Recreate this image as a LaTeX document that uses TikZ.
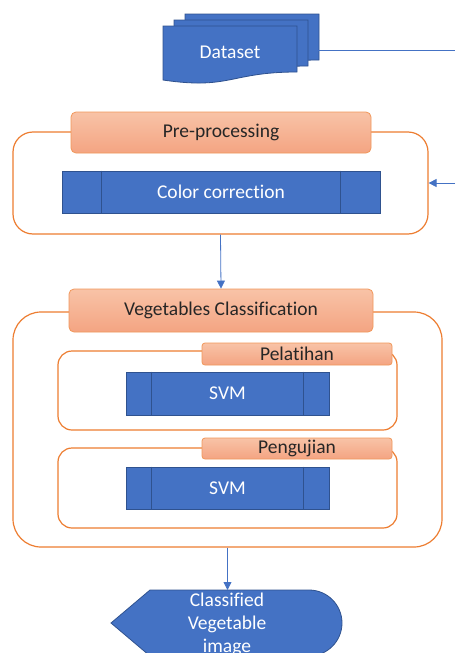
\documentclass[tikz,border=0pt]{standalone}
\usepackage{fontspec}
\setmainfont{Carlito}[Ligatures=NoCommon]
\usepackage{tikz}
\usetikzlibrary{arrows.meta}

\definecolor{azul}{HTML}{4472C4}
\definecolor{azulborde}{HTML}{2F528F}
\definecolor{naranja}{HTML}{ED7D31}
\definecolor{salmonA}{HTML}{F8C3A7}
\definecolor{salmonB}{HTML}{F4A482}

\begin{document}
\begin{tikzpicture}[x=1pt, y=-1pt,
    caja/.style={draw=naranja, line width=1.2pt, fill=white, rounded corners=#1},
    cabecera/.style={draw=naranja!80, line width=0.8pt, rounded corners=5pt,
        top color=salmonA, bottom color=salmonB, text=black!85,
        font=\fontsize{19.5}{23}\selectfont},
    proceso/.style={draw=azulborde, line width=1pt, fill=azul, text=white,
        font=\fontsize{19.5}{23}\selectfont},
    flecha/.style={draw=azul, line width=0.8pt, -{Triangle[length=8pt,width=8pt]}}]

    \clip (0,0) rectangle (455,653);
    \useasboundingbox (0,0) rectangle (455,653);

    % Pila de documentos 'Dataset'
    \foreach \dx/\dy in {22/-12, 11/-6, 0/0} {
        \draw[draw=azulborde, line width=0.8pt, fill=azul]
            ({163+\dx},{26+\dy}) -- ({297+\dx},{26+\dy}) -- ({297+\dx},{72+\dy})
            .. controls ({230+\dx},{72+\dy}) and ({230+\dx},{90+\dy}) .. ({163+\dx},{80+\dy}) -- cycle;
    }
    \node[text=white, font=\fontsize{19.5}{23}\selectfont] (dataset) at (230,52) {Dataset};
    \coordinate (datasetfin) at (318,50);
    \coordinate (salidader) at (455,50);
    \coordinate (entrada) at (455,183);

    % Bloque 'Pre-processing'
    \node[caja=20pt, minimum width=415, minimum height=102] (preproc) at (220.5,183) {};
    \node[cabecera, minimum width=300, minimum height=41] (preproctit) at (221,132.5) {Pre-processing};
    \node[proceso, minimum width=318, minimum height=42] (color) at (221,192) {Color correction};
    \draw[azulborde, line width=0.8pt] ([xshift=40]color.north west) -- ([xshift=40]color.south west);
    \draw[azulborde, line width=0.8pt] ([xshift=-40]color.north east) -- ([xshift=-40]color.south east);

    % Bloque 'Vegetables Classification'
    \node[caja=28pt, minimum width=429, minimum height=235] (clasif) at (227.5,429.5) {};
    \node[cabecera, minimum width=304, minimum height=43] (clasiftit) at (221,310.5) {Vegetables Classification};

    % Sub-bloque 'Pelatihan'
    \node[caja=14pt, minimum width=339, minimum height=79] (pelatihan) at (227.5,390.5) {};
    \node[cabecera, rounded corners=3pt, minimum width=190, minimum height=22, inner sep=0pt] (pelatihantit) at (297,354) {Pelatihan};
    \node[proceso, minimum width=203, minimum height=43] (svmA) at (227.5,393.5) {SVM};
    \draw[azulborde, line width=0.8pt] ([xshift=26]svmA.north west) -- ([xshift=26]svmA.south west);
    \draw[azulborde, line width=0.8pt] ([xshift=-26]svmA.north east) -- ([xshift=-26]svmA.south east);

    % Sub-bloque 'Pengujian'
    \node[caja=14pt, minimum width=339, minimum height=80] (pengujian) at (227.5,488) {};
    \node[cabecera, rounded corners=3pt, minimum width=190, minimum height=21, inner sep=0pt] (pengujiantit) at (297,448.5) {Pengujian};
    \node[proceso, minimum width=203, minimum height=42] (svmB) at (227.5,488) {SVM};
    \draw[azulborde, line width=0.8pt] ([xshift=26]svmB.north west) -- ([xshift=26]svmB.south west);
    \draw[azulborde, line width=0.8pt] ([xshift=-26]svmB.north east) -- ([xshift=-26]svmB.south east);

    % Salida 'Classified Vegetable image'
    \draw[draw=azulborde, line width=0.8pt, fill=azul]
        (111,623) -- (150,590) -- (309,590) arc[start angle=-90, end angle=90, x radius=33, y radius=33]
        -- (150,656) -- cycle;
    \coordinate (salidatop) at (227.5,590);
    \node[text=white, align=center, font=\fontsize{19.5}{23}\selectfont] (salida) at (227,624) {Classified\\Vegetable\\image};

    % Conectores
    \draw[azul, line width=0.8pt] (datasetfin) -- (salidader);
    \draw[flecha] (entrada) -- (preproc.east);
    \draw[flecha] (preproc.south) -- (clasiftit.north);
    \draw[flecha] (clasif.south) -- (salidatop);

\end{tikzpicture}
\end{document}
